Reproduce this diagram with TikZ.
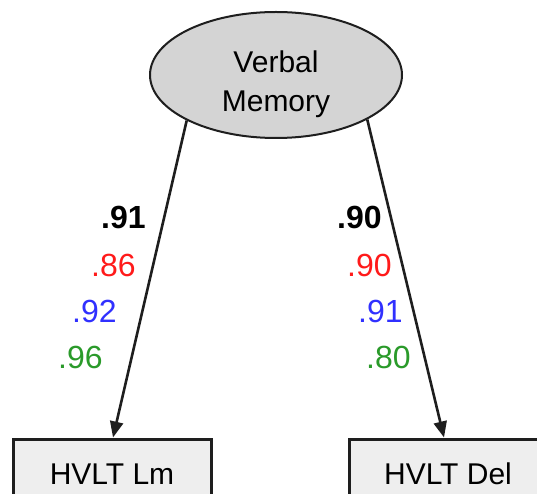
\documentclass[tikz,border=0pt]{standalone}
\usepackage{fontspec}
\setmainfont{Liberation Sans}
\usetikzlibrary{arrows.meta,shapes.geometric}
\definecolor{latfill}{HTML}{D4D4D4}
\definecolor{obsfill}{HTML}{EEEEEE}
\definecolor{edgegray}{HTML}{1E1E1E}
\definecolor{lblred}{HTML}{FF1A1A}
\definecolor{lblblue}{HTML}{3030FF}
\definecolor{lblgreen}{HTML}{2A9A2A}
\begin{document}
\begin{tikzpicture}[x=1pt,y=-1pt,
  latent/.style={ellipse,draw=edgegray,line width=2pt,fill=latfill,
    minimum width=252pt,minimum height=126pt,inner sep=0pt},
  latenttext/.style={align=center,inner sep=0pt,font=\fontsize{30}{39}\selectfont},
  observed/.style={rectangle,draw=edgegray,line width=3pt,fill=obsfill,
    minimum width=198pt,minimum height=70pt,inner sep=0pt,
    font=\fontsize{30}{36}\selectfont},
  path/.style={line width=2.6pt,draw=edgegray,-{Triangle[length=16pt,width=13pt]}},
  coef/.style={anchor=base west,inner sep=0pt,font=\fontsize{32}{36}\selectfont},
  coefbold/.style={coef,font=\fontsize{32}{36}\selectfont\bfseries}]
\useasboundingbox (0,0) rectangle (537,494);
\clip (0,0) rectangle (537,494);
% latent factor
\node[latent] (vm) at (276,75) {};
\node[latenttext] (vmlabel) at (276,84) {Verbal\\Memory};
% indicators
\node[observed] (lm) at (112,474) {HVLT Lm};
\node[observed] (del) at (448,474) {HVLT Del};
% loadings
\draw[path] (vm.207) -- ([xshift=1pt]lm.north);
\draw[path] (vm.334) -- ([xshift=-4pt]del.north);
% coefficients, one colour per group
\node[coefbold] (l1) at (101,228) {.91};
\node[coef,text=lblred] (l2) at (91,276) {.86};
\node[coef,text=lblblue] (l3) at (72,322) {.92};
\node[coef,text=lblgreen] (l4) at (58,368) {.96};
\node[coefbold] (r1) at (337,228) {.90};
\node[coef,text=lblred] (r2) at (347,276) {.90};
\node[coef,text=lblblue] (r3) at (358,322) {.91};
\node[coef,text=lblgreen] (r4) at (366,368) {.80};
\end{tikzpicture}
\end{document}
